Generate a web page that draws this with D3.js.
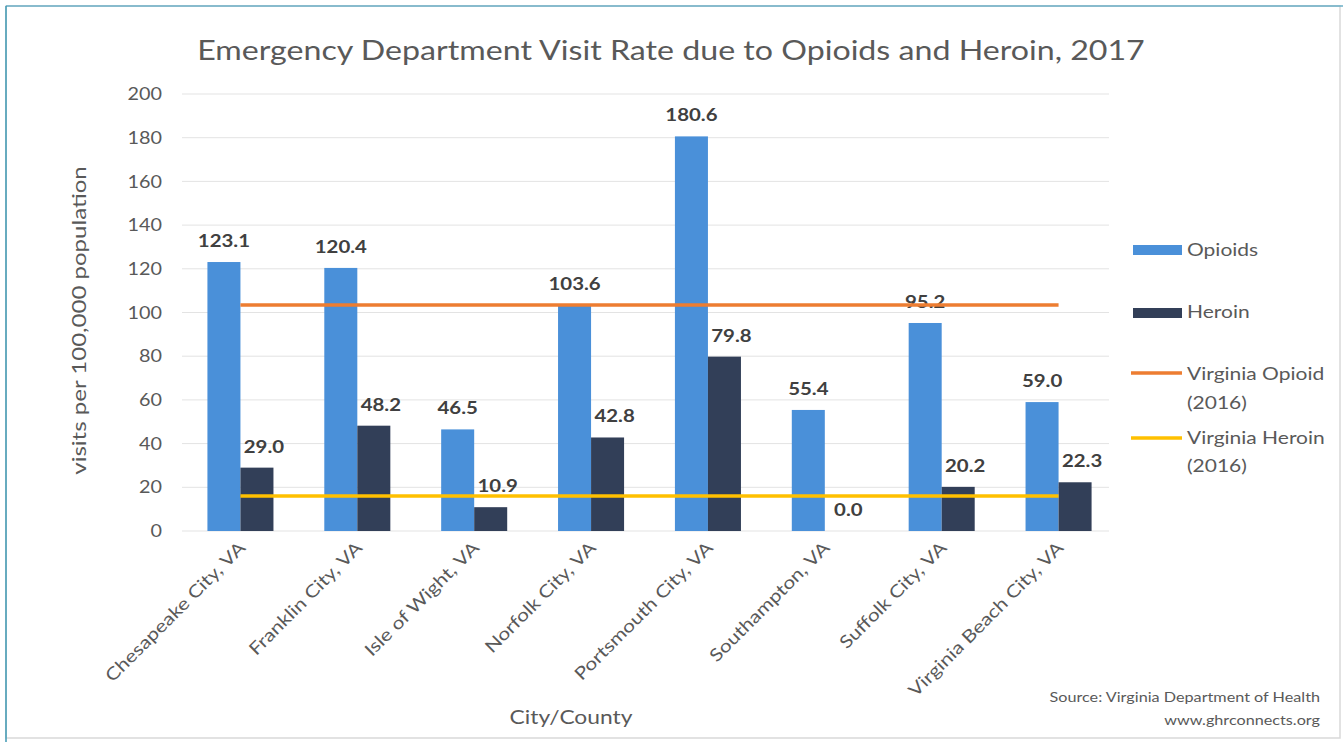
<!DOCTYPE html>
<html>
<head>
<meta charset="utf-8">
<script src="https://cdn.jsdelivr.net/npm/d3@7"></script>
<style>
  html, body { margin: 0; padding: 0; background: #fff; }
  svg { display: block; font-family: Lato, "Open Sans", sans-serif; }
</style>
</head>
<body>
<svg id="chart" width="1343" height="742"></svg>
<script>
// Emergency department visit rates per 100,000 population, 2017
const categories = [
  "Chesapeake City, VA", "Franklin City, VA", "Isle of Wight, VA", "Norfolk City, VA",
  "Portsmouth City, VA", "Southampton, VA", "Suffolk City, VA", "Virginia Beach City, VA"
];
const opioids = [123.1, 120.4, 46.5, 103.6, 180.6, 55.4, 95.2, 59.0];
const heroin = [29.0, 48.2, 10.9, 42.8, 79.8, 0.0, 20.2, 22.3];
// Statewide 2016 reference rates
const virginiaOpioid2016 = 103.4;
const virginiaHeroin2016 = 16.0;
const yTicks = [0, 20, 40, 60, 80, 100, 120, 140, 160, 180, 200];

const colors = {
  opioids: "#4a90d9",
  heroin: "#323f58",
  vaOpioid: "#ed7d31",
  vaHeroin: "#ffc000"
};

// Text is set in a slightly widened face (horizontal scale about its anchor)
const WIDE = 1.2;
const place = (x, y, rot = 0, sx = WIDE) =>
  `translate(${x},${y})` + (rot ? ` rotate(${rot})` : "") + ` scale(${sx},1)`;

const svg = d3.select("#chart");
const W = 1343, H = 742;

// Frame
svg.append("rect").attr("x", 6).attr("y", 6).attr("width", W - 9).attr("height", H - 10)
  .attr("fill", "#fff").attr("stroke", "#d9d9d9").attr("stroke-width", 1.5);
svg.append("line").attr("x1", 6).attr("x2", W).attr("y1", 6).attr("y2", 6)
  .attr("stroke", "#6aaec6").attr("stroke-width", 1.5);
svg.append("line").attr("x1", 6).attr("x2", 6).attr("y1", 6).attr("y2", H)
  .attr("stroke", "#3e98b3").attr("stroke-width", 1.5);

const plot = { left: 182, right: 1117, top: 94, bottom: 531 };

const x = d3.scaleBand().domain(categories).range([plot.left, plot.right]).paddingInner(0.435).paddingOuter(0.2175);
const xs = d3.scaleBand().domain(["opioids", "heroin"]).range([0, x.bandwidth()]);
const y = d3.scaleLinear().domain([0, 200]).range([plot.bottom, plot.top]);
const center = c => x(c) + x.bandwidth() / 2;

// Gridlines
svg.append("g").selectAll("line").data(yTicks).join("line")
  .attr("x1", plot.left).attr("x2", plot.right - 8)
  .attr("y1", d => y(d)).attr("y2", d => y(d))
  .attr("stroke", "#e3e3e3").attr("stroke-width", 1);

// Y axis labels
const yAxis = svg.append("g").attr("transform", `translate(${plot.left - 20},0)`)
  .call(d3.axisLeft(y).tickValues(yTicks).tickSize(0).tickPadding(0));
yAxis.select(".domain").remove();
yAxis.selectAll(".tick text")
  .attr("x", null).attr("dy", "0.34em")
  .attr("transform", "scale(" + WIDE + ",1)")
  .attr("fill", "#595959").attr("font-size", 16.5)
  .style("font-family", "Lato, 'Open Sans', sans-serif");

svg.append("text")
  .attr("transform", place(86, (plot.top + plot.bottom) / 2 + 8, -90, 1.3))
  .attr("text-anchor", "middle").attr("fill", "#595959").attr("font-size", 18.5)
  .text("visits per 100,000 population");

// Bars
const rows = categories.map((c, i) => ({ c, opioids: opioids[i], heroin: heroin[i] }));
const groups = svg.append("g").selectAll("g").data(rows).join("g")
  .attr("transform", d => `translate(${x(d.c)},0)`);

["opioids", "heroin"].forEach(key => {
  groups.append("rect")
    .attr("x", xs(key)).attr("width", xs.bandwidth())
    .attr("y", d => y(d[key])).attr("height", d => y(0) - y(d[key]))
    .attr("fill", colors[key]);
});

// Statewide reference lines through category centres
const line = d3.line().x(d => d[0]).y(d => d[1]);
[[virginiaOpioid2016, colors.vaOpioid], [virginiaHeroin2016, colors.vaHeroin]].forEach(([v, col]) => {
  svg.append("path")
    .attr("d", line(categories.map(c => [center(c), y(v)])))
    .attr("fill", "none").attr("stroke", col).attr("stroke-width", 3.5);
});

// Value labels
["opioids", "heroin"].forEach(key => {
  groups.append("text")
    .attr("transform", d => place(xs(key) + xs.bandwidth() / 2 + (key === "heroin" ? 7 : 0), y(d[key]) - 15))
    .attr("text-anchor", "middle").attr("font-weight", "bold").attr("font-size", 17)
    .attr("fill", "#404040")
    .text(d => d[key].toFixed(1));
});

// Category labels
svg.append("g").selectAll("text").data(categories).join("text")
  .attr("transform", c => place(center(c) + 6, plot.bottom + 18, -45))
  .attr("text-anchor", "end").attr("fill", "#595959").attr("font-size", 17.5)
  .text(c => c);

svg.append("text").attr("transform", place(571, 724))
  .attr("text-anchor", "middle")
  .attr("fill", "#595959").attr("font-size", 19).text("City/County");

// Title
svg.append("text").attr("transform", place(671, 60))
  .attr("text-anchor", "middle")
  .attr("fill", "#595959").attr("font-size", 26.8)
  .text("Emergency Department Visit Rate due to Opioids and Heroin, 2017");

// Legend
const legend = svg.append("g");
const lx = 1133, tx = 1187;
legend.append("rect").attr("x", lx).attr("y", 245).attr("width", 49).attr("height", 10).attr("fill", colors.opioids);
legend.append("rect").attr("x", lx).attr("y", 308).attr("width", 49).attr("height", 10).attr("fill", colors.heroin);
legend.append("line").attr("x1", lx - 2).attr("x2", lx + 49).attr("y1", 373).attr("y2", 373)
  .attr("stroke", colors.vaOpioid).attr("stroke-width", 3.5);
legend.append("line").attr("x1", lx - 2).attr("x2", lx + 49).attr("y1", 438).attr("y2", 438)
  .attr("stroke", colors.vaHeroin).attr("stroke-width", 3.5);
const legendText = [
  ["Opioids", 256], ["Heroin", 318],
  ["Virginia Opioid", 380], ["(2016)", 409],
  ["Virginia Heroin", 444], ["(2016)", 472]
];
legend.selectAll("text").data(legendText).join("text")
  .attr("transform", d => place(tx, d[1]))
  .attr("fill", "#595959").attr("font-size", 17.5)
  .text(d => d[0]);

// Source note
svg.append("text").attr("transform", place(1320, 702))
  .attr("text-anchor", "end")
  .attr("fill", "#595959").attr("font-size", 13.5).text("Source: Virginia Department of Health");
svg.append("text").attr("transform", place(1320, 725))
  .attr("text-anchor", "end")
  .attr("fill", "#595959").attr("font-size", 13.5).text("www.ghrconnects.org");
</script>
</body>
</html>
